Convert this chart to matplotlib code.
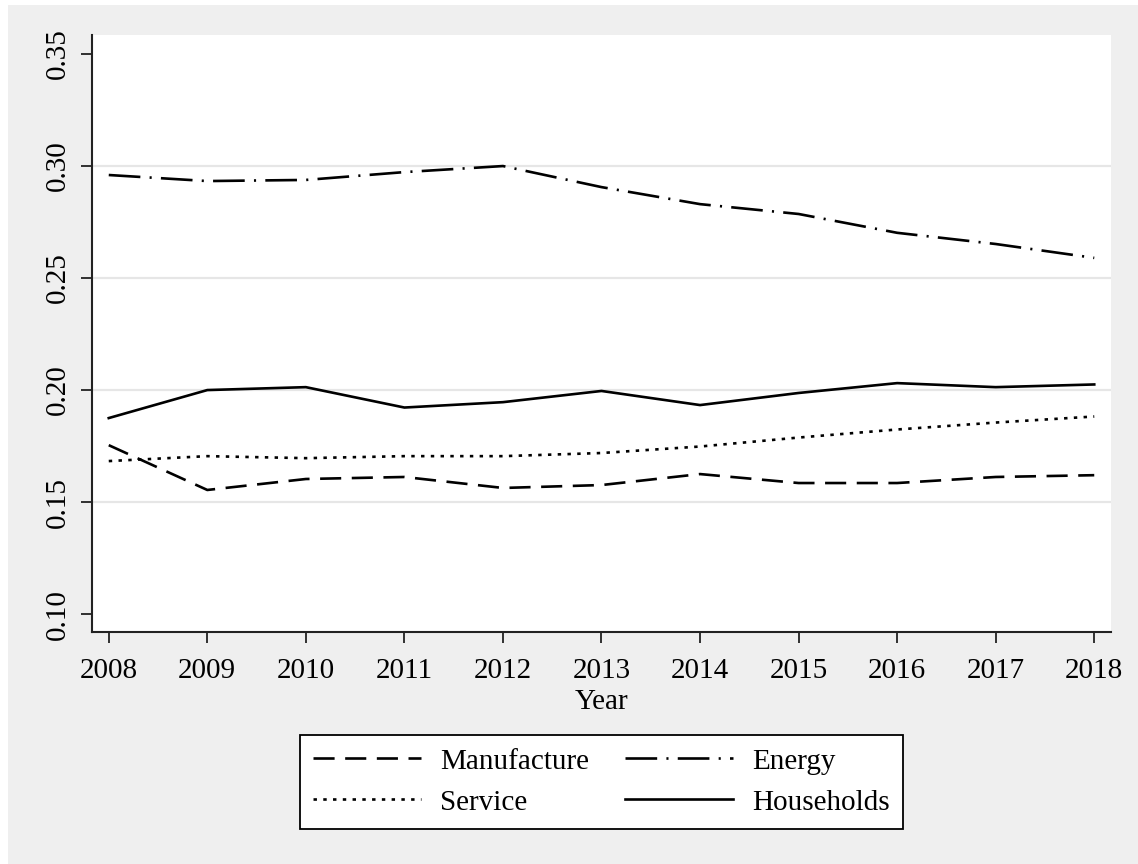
import matplotlib.pyplot as plt
from matplotlib.patches import Rectangle

# Data
years = [2008, 2009, 2010, 2011, 2012, 2013, 2014, 2015, 2016, 2017, 2018]
manufacture = [0.1754, 0.1554, 0.1603, 0.1612, 0.1563, 0.1576, 0.1625, 0.1585, 0.1585, 0.1612, 0.1620]
energy = [0.2960, 0.2933, 0.2938, 0.2973, 0.3000, 0.2906, 0.2830, 0.2786, 0.2702, 0.2652, 0.2590]
service = [0.1683, 0.1705, 0.1696, 0.1705, 0.1705, 0.1719, 0.1748, 0.1788, 0.1824, 0.1855, 0.1882]
households = [0.1875, 0.2000, 0.2013, 0.1922, 0.1946, 0.1996, 0.1933, 0.1987, 0.2031, 0.2013, 0.2025]
yticks = [0.10, 0.15, 0.20, 0.25, 0.30, 0.35]

plt.rcParams['font.family'] = ['Liberation Serif', 'DejaVu Serif']

W, H = 1138, 864
fig = plt.figure(figsize=(W / 100, H / 100), dpi=100)
fig.patch.set_facecolor('white')
# light gray graph region (Stata style)
fig.patches.append(Rectangle((8 / W, 0), 1 - 8 / W, 1 - 5 / H, transform=fig.transFigure,
                             facecolor='#efefef', edgecolor='none', zorder=-10))

ax = fig.add_axes([92 / W, 1 - 632 / H, (1111 - 92) / W, (632 - 35) / H])
ax.set_facecolor('white')

lw = 1.9
ax.plot(years, manufacture, color='black', lw=lw, linestyle=(0, (8, 4)), label='Manufacture')
ax.plot(years, service, color='black', lw=lw, linestyle=(0, (1.3, 2.4)), label='Service')
ax.plot(years, energy, color='black', lw=lw, linestyle=(0, (12, 3.5, 0.8, 3.5)), label='Energy')
ax.plot(years, households, color='black', lw=lw, linestyle='-', label='Households')

ax.set_xlim(2007.83, 2018.17)
ax.set_ylim(0.092, 0.3585)
ax.set_xticks(years)
ax.set_yticks(yticks)
ax.set_yticklabels(['%.2f' % v for v in yticks], rotation=90, va='center')
ax.tick_params(axis='both', labelsize=21, length=8, width=1.3, color='#222222')
ax.tick_params(axis='x', pad=11)
ax.tick_params(axis='y', pad=7)

ax.grid(True, axis='y', color='#e6e6e6', lw=1.6)
gl = ax.yaxis.get_gridlines()
gl[0].set_visible(False)
gl[-1].set_visible(False)
ax.set_axisbelow(True)

for side in ['top', 'right']:
    ax.spines[side].set_visible(False)
for side in ['left', 'bottom']:
    ax.spines[side].set_color('#222222')
    ax.spines[side].set_linewidth(1.5)

ax.set_xlabel('Year', fontsize=21, labelpad=3)

leg = fig.legend(loc='center', bbox_to_anchor=(601.5 / W, 1 - 782 / H), ncol=2,
                 fontsize=21, frameon=True, fancybox=False, handlelength=3.7,
                 handletextpad=0.65, columnspacing=1.25, labelspacing=0.5,
                 borderpad=0.45)
leg.get_frame().set_edgecolor('black')
leg.get_frame().set_linewidth(1.3)
leg.get_frame().set_facecolor('white')
leg.get_frame().set_alpha(None)

fig.savefig('out.png', dpi=100)
